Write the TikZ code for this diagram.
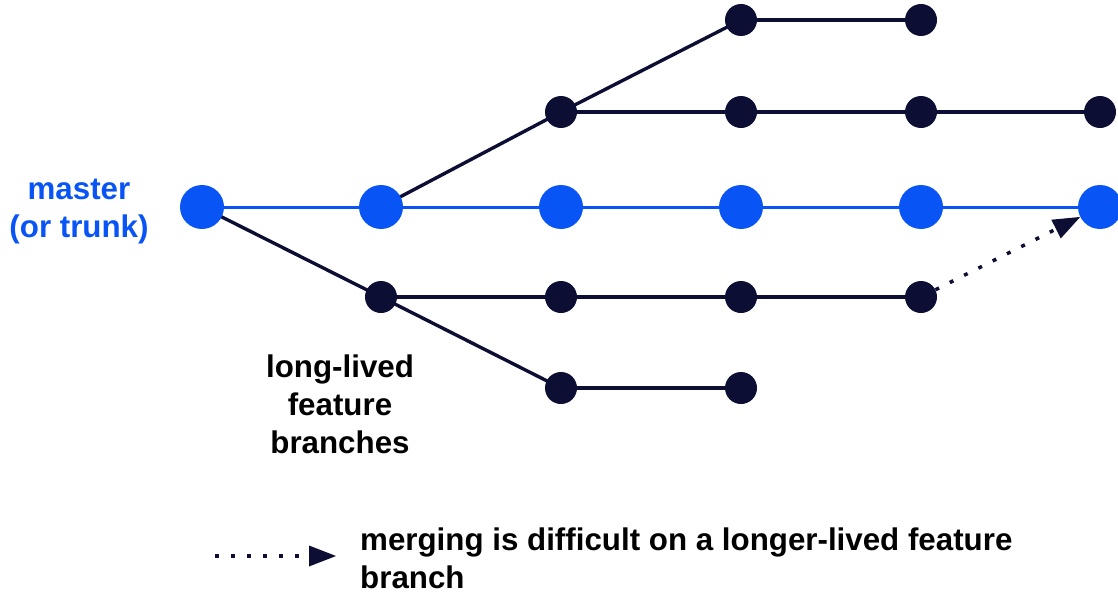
\documentclass[tikz,border=0pt]{standalone}
\usepackage{fontspec}
\setmainfont{Liberation Sans}
\usetikzlibrary{arrows.meta}
\definecolor{trunkblue}{RGB}{8,84,245}
\definecolor{navy}{RGB}{12,14,52}
\begin{document}
\begin{tikzpicture}[x=1pt,y=-1pt,
  trunkdot/.style={circle,fill=trunkblue,minimum size=44pt,inner sep=0pt},
  featdot/.style={circle,fill=navy,minimum size=32pt,inner sep=0pt},
  trunkline/.style={trunkblue,line width=3pt},
  featline/.style={navy,line width=3.4pt},
  mergearrow/.style={navy,line width=3.5pt,dash pattern=on 4pt off 12pt,
    -{Triangle[length=27pt,width=21pt,line width=0pt]}},
  lbl/.style={font=\fontsize{31.3}{38}\selectfont\bfseries,inner sep=0pt}]
\useasboundingbox (0,0) rectangle (1118,594);
% feature branch lines (drawn first, under the dots)
\coordinate (t1) at (381,207);
\coordinate (t0) at (202,207);
\draw[featline] (t1) -- (561,112) -- (741,20);
\draw[featline] (t0) -- (381,297) -- (561,388);
% trunk line
\draw[trunkline] (t0) -- (1100,207);
% trunk commits
\foreach \i/\x in {0/202,1/381,2/561,3/741,4/921,5/1100}
  \node[trunkdot] (m\i) at (\x,207) {};
% upper branches
\node[featdot] (a1) at (741,20) {};
\node[featdot] (a2) at (921,20) {};
\draw[featline] (a1) -- (a2);
\node[featdot] (b1) at (561,112) {};
\node[featdot] (b2) at (741,112) {};
\node[featdot] (b3) at (921,112) {};
\node[featdot] (b4) at (1100,112) {};
\draw[featline] (b1) -- (b2) -- (b3) -- (b4);
% lower branches
\node[featdot] (c1) at (381,297) {};
\node[featdot] (c2) at (561,297) {};
\node[featdot] (c3) at (741,297) {};
\node[featdot] (c4) at (921,297) {};
\draw[featline] (c1) -- (c2) -- (c3) -- (c4);
\node[featdot] (d1) at (561,388) {};
\node[featdot] (d2) at (741,388) {};
\draw[featline] (d1) -- (d2);
% difficult merge back to trunk
\draw[mergearrow] (c4) -- (m5);
% labels
\node[lbl,text=trunkblue,align=center] (master) at (79,212) {master\\(or trunk)};
\node[lbl,text=black,align=center] (feat) at (340,404) {long-lived\\feature\\branches};
% legend
\coordinate (ls) at (215,556);
\coordinate (le) at (336,556);
\draw[mergearrow] (ls) -- (le);
\node[lbl,text=black,align=left,anchor=west] (legend) at (360,558) {merging is difficult on a longer-lived feature\\branch};
\end{tikzpicture}
\end{document}
